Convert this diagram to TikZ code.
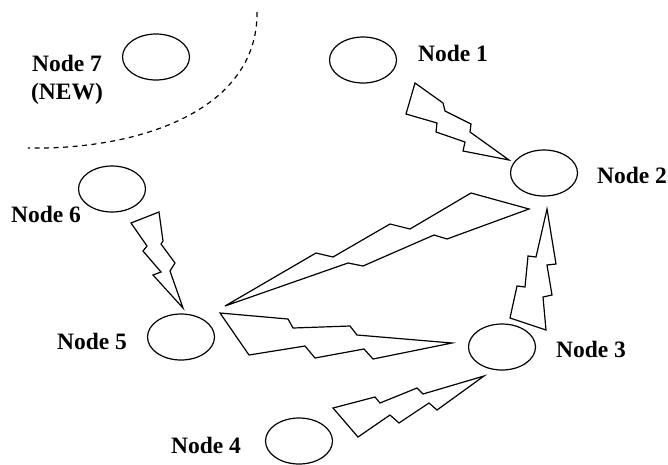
\documentclass[tikz,border=0pt]{standalone}
\usepackage{fontspec}
\setmainfont{Liberation Serif}
\usetikzlibrary{shapes.geometric}
\begin{document}
\begin{tikzpicture}[x=1pt,y=-1pt,
  station/.style={draw,ellipse,line width=1.2pt,minimum width=67pt,minimum height=46pt,inner sep=0pt},
  tag/.style={font=\fontsize{23.5}{28}\selectfont\bfseries,inner sep=0pt,align=center},
  bolt/.style={draw,line width=1.2pt,line join=miter},
  border/.style={line width=1.2pt,dash pattern=on 5pt off 4.5pt}]
\useasboundingbox (0,0) rectangle (668,464);

% stations
\node[station] (n7) at (156,57) {};
\node[station] (n1) at (363,60) {};
\node[station] (n2) at (544,173) {};
\node[station] (n6) at (112,189) {};
\node[station] (n5) at (181,337) {};
\node[station] (n3) at (502,347) {};
\node[station] (n4) at (299,441) {};

% station labels
\node[tag] (l7) at (67,80) {Node 7\\(NEW)};
\node[tag] (l1) at (453,53) {Node 1};
\node[tag] (l2) at (632,175) {Node 2};
\node[tag] (l6) at (46,214) {Node 6};
\node[tag] (l5) at (92,341) {Node 5};
\node[tag] (l3) at (591,349) {Node 3};
\node[tag] (l4) at (206,445) {Node 4};

% boundary of the existing network
\draw[border] (257,12) .. controls (258,110) and (140,150) .. (28,148);

% radio links
% Node 1 -> Node 2
\draw[bolt] (415,83) -- (443,103) -- (445,111) -- (471,124) -- (470,132) -- (509,160)
  -- (463,151) -- (465,142) -- (436,132) -- (437,123) -- (406,114) -- cycle;
% Node 6 -> Node 5
\draw[bolt] (131,223) -- (159,212) -- (163,241) -- (161,244) -- (175,263) -- (170,271) -- (183,308)
  -- (153,275) -- (161,272) -- (143,251) -- (147,246) -- cycle;
% Node 2 -> Node 5
\draw[bolt] (529,209) -- (471,193) -- (410,229) -- (390,224) -- (333,257) -- (316,253) -- (225,306)
  -- (348,263) -- (363,266) -- (434,235) -- (447,239) -- cycle;
% Node 5 -> Node 3
\draw[bolt] (220,313) -- (288,319) -- (293,328) -- (350,326) -- (357,335) -- (452,343)
  -- (373,359) -- (364,349) -- (315,358) -- (305,346) -- (249,355) -- cycle;
% Node 3 -> Node 2
\draw[bolt] (547,209) -- (556,264) -- (547,265) -- (552,295) -- (543,297) -- (546,330)
  -- (510,318) -- (517,286) -- (525,287) -- (528,256) -- (536,257) -- cycle;
% Node 4 -> Node 3
\draw[bolt] (333,408) -- (375,397) -- (380,403) -- (417,388) -- (423,394) -- (484,376)
  -- (437,410) -- (429,403) -- (399,423) -- (390,415) -- (358,437) -- cycle;
\end{tikzpicture}
\end{document}
